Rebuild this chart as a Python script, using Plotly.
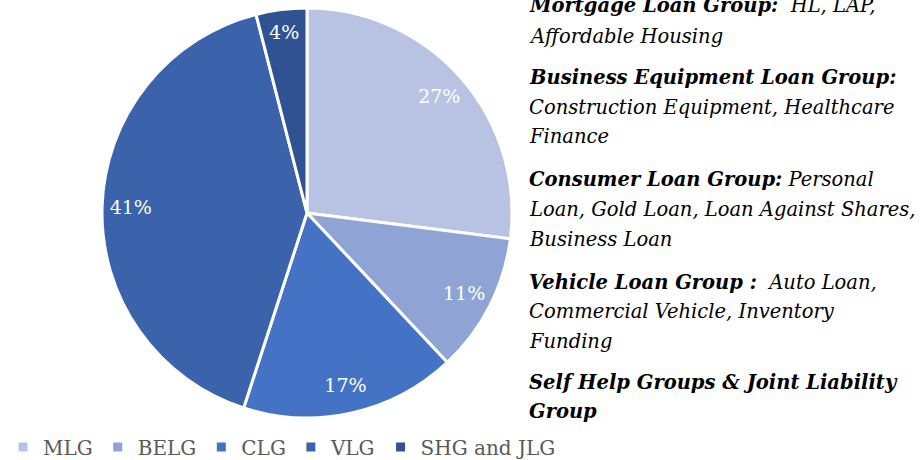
import plotly.graph_objects as go

# segment data
segments = ["MLG", "BELG", "CLG", "VLG", "SHG and JLG"]
shares = [27, 11, 17, 41, 4]
slice_colors = ["#b8c3e3", "#8fa4d5", "#4473c5", "#3b63ab", "#2f5293"]

# description text on the right, one entry per printed line
desc_lines = [
    "<b>Mortgage Loan Group:</b>  HL, LAP,",
    "Affordable Housing",
    "<b>Business Equipment Loan Group:</b>",
    "Construction Equipment, Healthcare",
    "Finance",
    "<b>Consumer Loan Group:</b> Personal",
    "Loan, Gold Loan, Loan Against Shares,",
    "Business Loan",
    "<b>Vehicle Loan Group :</b>  Auto Loan,",
    "Commercial Vehicle, Inventory",
    "Funding",
    "<b>Self Help Groups &amp; Joint Liability</b>",
    "<b>Group</b>",
]
desc_y_px = [5, 37, 77, 107, 137, 180, 209, 239, 282, 311, 341, 382, 411]

W, H = 921, 460
SERIF = "DejaVu Serif"
pie_dom = dict(x=[102 / W, 512 / W], y=[(H - 418) / H, (H - 8) / H])

fig = go.Figure()
# coloured slices
fig.add_trace(
    go.Pie(
        labels=segments,
        values=shares,
        sort=False,
        direction="clockwise",
        rotation=0,
        marker=dict(colors=slice_colors, line=dict(color="white", width=3)),
        textinfo="none",
        domain=pie_dom,
        hoverinfo="label+percent",
    )
)
# transparent ring that only carries the percent labels, pushing them outwards
fig.add_trace(
    go.Pie(
        labels=segments,
        values=shares,
        sort=False,
        direction="clockwise",
        rotation=0,
        hole=0.72,
        marker=dict(colors=["rgba(0,0,0,0)"] * len(shares), line=dict(width=0)),
        texttemplate="%{percent:.0%}",
        textposition="inside",
        insidetextorientation="horizontal",
        textfont=dict(family=SERIF, size=19, color="white"),
        domain=pie_dom,
        hoverinfo="skip",
        showlegend=False,
    )
)

for txt, ypx in zip(desc_lines, desc_y_px):
    fig.add_annotation(
        text="<i>" + txt + "</i>",
        xref="paper",
        yref="paper",
        x=527 / W,
        y=(H - ypx) / H,
        xanchor="left",
        yanchor="middle",
        showarrow=False,
        font=dict(family=SERIF, size=19.5, color="black"),
    )

fig.update_layout(
    width=W,
    height=H,
    margin=dict(l=0, r=0, t=0, b=0, autoexpand=False),
    paper_bgcolor="white",
    plot_bgcolor="white",
    showlegend=True,
    legend=dict(
        orientation="h",
        x=3 / W,
        y=(H - 447) / H,
        xanchor="left",
        yanchor="middle",
        font=dict(family=SERIF, size=20, color="#595959"),
        itemwidth=30,
    ),
)

# drop the default page margin so the figure sits at the window's top-left corner
fig.write_html(
    "out.html",
    config={"displayModeBar": False},
    post_script="document.body.style.margin = '0';",
)
